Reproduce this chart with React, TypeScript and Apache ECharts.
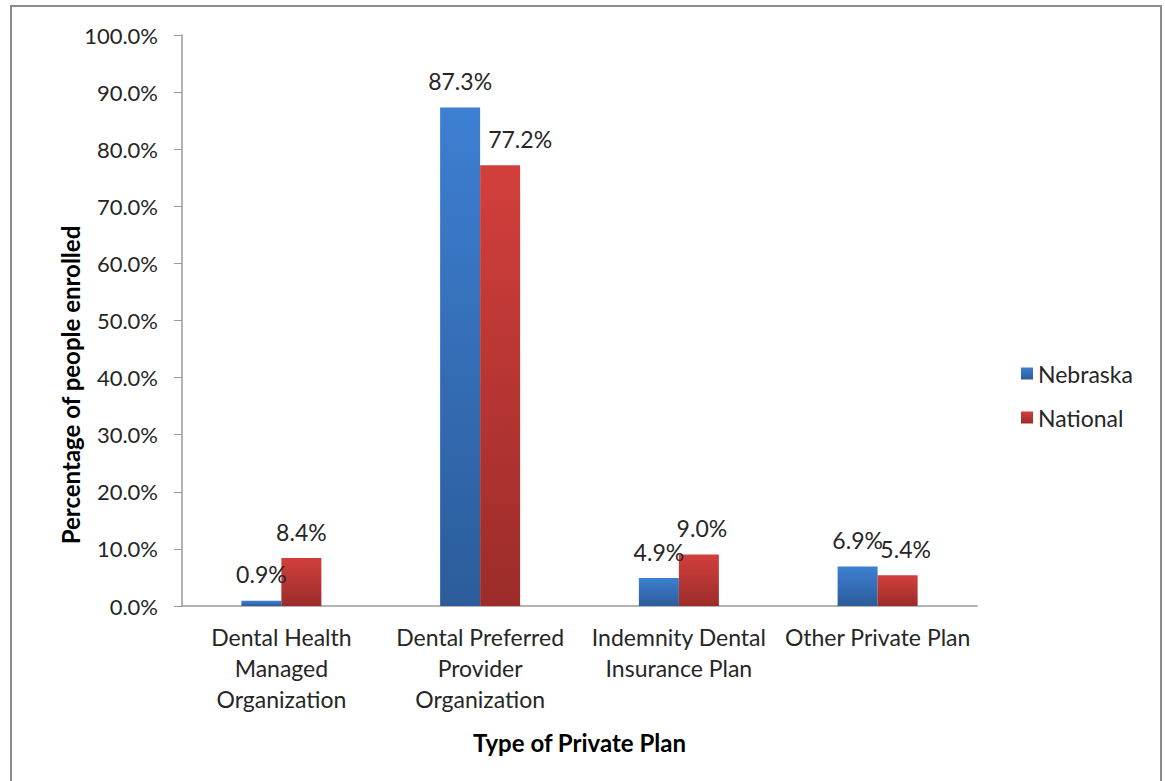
import React, { useEffect, useRef } from "react";
import * as echarts from "echarts";

const categories = [
  "Dental Health\nManaged\nOrganization",
  "Dental Preferred\nProvider\nOrganization",
  "Indemnity Dental\nInsurance Plan",
  "Other Private Plan",
];
const nebraska = [0.9, 87.3, 4.9, 6.9];
const national = [8.4, 77.2, 9.0, 5.4];
const seriesNames = ["Nebraska", "National"];
const yTitle = "Percentage of people enrolled";
const xTitle = "Type of Private Plan";

const FONT = "Lato, 'Open Sans', sans-serif";
const TXT = "#262626";

// horizontal nudges of a few national labels, as placed in the reference
const nationalLabelShift: Record<number, number> = { 1: 20, 2: 3, 3: 8 };

function grad(top: string, bottom: string) {
  return new echarts.graphic.LinearGradient(0, 0, 0, 1, [
    { offset: 0, color: top },
    { offset: 1, color: bottom },
  ]);
}

export default function App() {
  const ref = useRef<HTMLDivElement>(null);
  useEffect(() => {
    const chart = echarts.init(ref.current!, null, { renderer: "svg" });
    const label = {
      show: true,
      position: "top" as const,
      distance: 15,
      fontFamily: FONT,
      fontSize: 23,
      color: TXT,
      formatter: (p: any) => Number(p.value).toFixed(1) + "%",
    };
    chart.setOption({
      animation: false,
      backgroundColor: "#ffffff",
      textStyle: { fontFamily: FONT },
      graphic: [
        {
          type: "rect",
          shape: { x: 11, y: 6, width: 1150, height: 800 },
          style: { fill: "none", stroke: "#8a8a8a", lineWidth: 2 },
          silent: true,
        },
        {
          type: "text",
          x: 70,
          y: 385,
          rotation: Math.PI / 2,
          style: {
            text: yTitle,
            fontFamily: FONT,
            fontSize: 24,
            fontWeight: "bold",
            fill: "#000",
            align: "center",
            verticalAlign: "middle",
          },
        },
      ],
      legend: {
        orient: "vertical",
        left: 1016,
        top: 357,
        itemWidth: 12,
        itemHeight: 12,
        itemGap: 21,
        icon: "rect",
        textStyle: { fontFamily: FONT, fontSize: 23, color: TXT },
        data: seriesNames,
      },
      grid: { left: 182, right: 188, top: 35, bottom: 175, containLabel: false },
      xAxis: {
        type: "category",
        data: categories,
        name: xTitle,
        nameLocation: "middle",
        nameGap: 124,
        nameTextStyle: { fontFamily: FONT, fontSize: 24, fontWeight: "bold", color: "#000" },
        axisLine: { lineStyle: { color: "#9a9a9a", width: 1.5 } },
        axisTick: { show: false },
        axisLabel: {
          interval: 0,
          margin: 15,
          fontFamily: FONT,
          fontSize: 23,
          color: TXT,
          lineHeight: 31,
        },
      },
      yAxis: {
        type: "value",
        min: 0,
        max: 100,
        interval: 10,
        splitLine: { show: false },
        axisLine: { show: true, lineStyle: { color: "#9a9a9a", width: 1.5 } },
        axisTick: { show: true, length: 8, lineStyle: { color: "#9a9a9a" } },
        axisLabel: {
          margin: 24,
          fontFamily: FONT,
          fontSize: 22,
          color: TXT,
          formatter: (v: number) => v.toFixed(1) + "%",
        },
      },
      series: [
        {
          name: seriesNames[0],
          type: "bar",
          data: nebraska,
          barWidth: 40,
          barGap: "0%",
          itemStyle: { color: grad("#3d7fd2", "#2c5c9a") },
          label,
        },
        {
          name: seriesNames[1],
          type: "bar",
          data: national.map((v, i) =>
            nationalLabelShift[i] !== undefined
              ? { value: v, label: { offset: [nationalLabelShift[i], 0] } }
              : v
          ),
          barWidth: 40,
          barGap: "0%",
          itemStyle: { color: grad("#d23f3b", "#9b2c2a") },
          label,
        },
      ],
    });
    return () => chart.dispose();
  }, []);
  return (
    <div
      ref={ref}
      style={{ position: "absolute", left: 0, top: 0, width: 1165, height: 781 }}
    />
  );
}
